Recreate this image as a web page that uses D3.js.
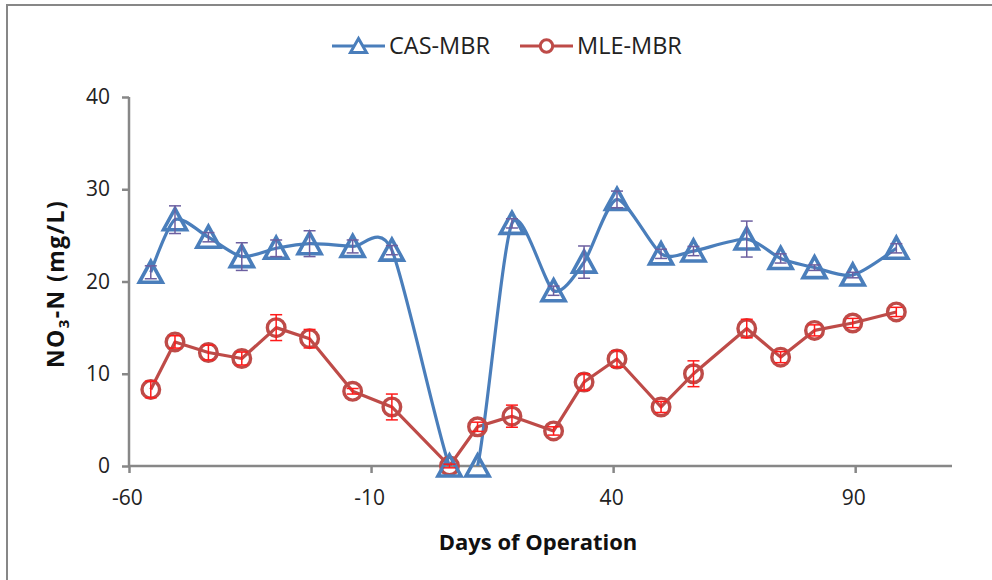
<!DOCTYPE html>
<html>
<head>
<meta charset="utf-8">
<script src="https://cdn.jsdelivr.net/npm/d3@7"></script>
<style>
  html, body { margin: 0; padding: 0; background: #fff; }
  svg { display: block; font-family: "Open Sans", Lato, sans-serif; }
</style>
</head>
<body>
<svg id="chart" width="992" height="580"></svg>
<script>
// Sampling days and NO3-N concentrations (mg/L) for the two reactors
const days   = [-55.5, -50.5, -43.6, -36.7, -29.6, -22.7, -13.8, -5.7, 6.2, 12.0, 19.1, 27.7, 34.0, 40.8, 49.9, 56.6, 67.6, 74.6, 81.6, 89.5, 98.5];
const casMbr = [21.0, 26.7, 24.8, 22.7, 23.6, 24.1, 23.8, 23.4, 0, 0, 26.3, 19.0, 22.1, 28.9, 23.0, 23.3, 24.6, 22.5, 21.5, 20.7, 23.6];
const casErr = [0.7, 1.5, 0.5, 1.5, 0.9, 1.4, 0.7, 0.5, 0, 0, 0.5, 0.5, 1.75, 0.9, 0.5, 0.5, 1.95, 0.5, 0.3, 0.3, 0.5];
const mleMbr = [8.3, 13.45, 12.3, 11.65, 15.0, 13.8, 8.1, 6.4, 0, 4.25, 5.4, 3.8, 9.1, 11.6, 6.4, 10.0, 14.9, 11.8, 14.7, 15.5, 16.7];
const mleErr = [0.9, 0.67, 0.8, 0.7, 1.4, 1.0, 0.3, 1.4, 0.2, 0.5, 1.2, 0.45, 0.9, 0.9, 0.6, 1.4, 1.0, 0.6, 0.6, 0.5, 0.5];
const xTicks = [-60, -10, 40, 90];
const yTicks = [0, 10, 20, 30, 40];
const seriesNames = ["CAS-MBR", "MLE-MBR"];

const svg = d3.select("#chart");
const plot = { left: 129, right: 952, top: 97, bottom: 466 };
const axisGrey = "#878787";
const blue = "#4a7ebb";
const red = "#be4b48";
const font = "'Open Sans', Lato, sans-serif";

const x = d3.scaleLinear().domain([-60, 110]).range([plot.left, plot.right]);
const y = d3.scaleLinear().domain([0, 40]).range([plot.bottom, plot.top]);

// Outer frame
svg.append("rect")
  .attr("x", 7).attr("y", 5).attr("width", 1000).attr("height", 600)
  .attr("fill", "none").attr("stroke", axisGrey).attr("stroke-width", 2);

// Clip path for the lines (markers may overhang the plot area)
svg.append("defs").append("clipPath").attr("id", "plotClip")
  .append("rect")
  .attr("x", plot.left).attr("y", plot.top - 20)
  .attr("width", plot.right - plot.left).attr("height", plot.bottom - plot.top + 20);

// Axes
const xAxis = d3.axisBottom(x).tickValues(xTicks).tickSize(7).tickPadding(17).tickFormat(d => String(d));
const yAxis = d3.axisLeft(y).tickValues(yTicks).tickSize(7).tickPadding(12).tickFormat(d => String(d));

const gx = svg.append("g").attr("transform", `translate(0,${plot.bottom})`).call(xAxis);
const gy = svg.append("g").attr("transform", `translate(${plot.left},0)`).call(yAxis);
[gx, gy].forEach(g => {
  g.select(".domain").attr("stroke", axisGrey).attr("stroke-width", 2.5);
  g.selectAll(".tick line").attr("stroke", axisGrey).attr("stroke-width", 2.5);
  g.selectAll(".tick text").attr("fill", "#222").style("font-size", "21px").style("font-family", font);
});
gx.selectAll(".tick text").attr("dx", -2);
gx.select(".domain").attr("d", `M${plot.left},0H${plot.right}`);
gy.select(".domain").attr("d", `M0,${plot.top}V${plot.bottom}`);

// Axis titles
svg.append("text")
  .attr("x", 538).attr("y", 550)
  .attr("text-anchor", "middle")
  .style("font-size", "22px").style("font-weight", "bold").attr("fill", "#111")
  .text("Days of Operation");

const yTitle = svg.append("text")
  .attr("transform", `translate(64,284) rotate(-90)`)
  .attr("text-anchor", "middle")
  .style("font-size", "23px").style("font-weight", "bold").style("letter-spacing", "1.4px")
  .attr("fill", "#111");
yTitle.append("tspan").text("NO");
yTitle.append("tspan").attr("dy", 5).style("font-size", "15px").text("3");
yTitle.append("tspan").attr("dy", -5).text("-N (mg/L)");

// Series data
const casData = days.map((d, i) => ({ x: d, y: casMbr[i], e: casErr[i] }));
const mleData = days.map((d, i) => ({ x: d, y: mleMbr[i], e: mleErr[i] }));

// Lines
const smoothLine = d3.line().x(d => x(d.x)).y(d => y(d.y)).curve(d3.curveCardinal.tension(0.25));
const straightLine = d3.line().x(d => x(d.x)).y(d => y(d.y));

const lines = svg.append("g").attr("clip-path", "url(#plotClip)");
lines.append("path").datum(mleData).attr("d", straightLine)
  .attr("fill", "none").attr("stroke", red).attr("stroke-width", 3.2).attr("stroke-linejoin", "round");
lines.append("path").datum(casData).attr("d", smoothLine)
  .attr("fill", "none").attr("stroke", blue).attr("stroke-width", 3.2).attr("stroke-linejoin", "round");

// Marker shapes
const triPath = (cx, cy) => `M${cx},${cy - 11}L${cx + 11.5},${cy + 10}L${cx - 11.5},${cy + 10}Z`;

// Markers
svg.append("g").selectAll("circle").data(mleData).join("circle")
  .attr("cx", d => x(d.x)).attr("cy", d => y(d.y)).attr("r", 8.8)
  .attr("fill", "none").attr("stroke", red).attr("stroke-width", 3.4);
svg.append("g").selectAll("path").data(casData).join("path")
  .attr("d", d => triPath(x(d.x), y(d.y)))
  .attr("fill", "none").attr("stroke", blue).attr("stroke-width", 3.6).attr("stroke-linejoin", "miter");

// Error bars
function errorBars(data, colour) {
  const g = svg.append("g").attr("stroke", colour).attr("stroke-width", 1.5).attr("fill", "none");
  const bars = data.filter(d => d.e > 0);
  g.selectAll(".v").data(bars).join("line")
    .attr("x1", d => x(d.x)).attr("x2", d => x(d.x))
    .attr("y1", d => y(d.y + d.e)).attr("y2", d => y(d.y - d.e));
  g.selectAll(".t").data(bars).join("line")
    .attr("x1", d => x(d.x) - 6).attr("x2", d => x(d.x) + 6)
    .attr("y1", d => y(d.y + d.e)).attr("y2", d => y(d.y + d.e));
  g.selectAll(".b").data(bars).join("line")
    .attr("x1", d => x(d.x) - 6).attr("x2", d => x(d.x) + 6)
    .attr("y1", d => y(d.y - d.e)).attr("y2", d => y(d.y - d.e));
}
errorBars(casData, "#6c5fa0");
errorBars(mleData, "#ff1a1a");

// Legend
const legend = svg.append("g").attr("transform", "translate(0,46)");
const legendItems = [
  { name: seriesNames[0], colour: blue, x0: 332, marker: "tri", tx: 389 },
  { name: seriesNames[1], colour: red, x0: 520, marker: "circle", tx: 577 }
];
legendItems.forEach(it => {
  legend.append("line").attr("x1", it.x0).attr("x2", it.x0 + 53).attr("y1", 0).attr("y2", 0)
    .attr("stroke", it.colour).attr("stroke-width", 3.2);
  const cx = it.x0 + 26.5;
  if (it.marker === "tri") {
    legend.append("path")
      .attr("d", `M${cx},-7.5L${cx + 8},6.5L${cx - 8},6.5Z`)
      .attr("fill", "#fff").attr("stroke", it.colour).attr("stroke-width", 3);
  } else {
    legend.append("circle").attr("cx", cx).attr("cy", 0).attr("r", 6.2)
      .attr("fill", "#fff").attr("stroke", it.colour).attr("stroke-width", 3);
  }
  legend.append("text").attr("x", it.tx).attr("y", 8)
    .style("font-size", "23.5px").attr("fill", "#222").text(it.name);
});
</script>
</body>
</html>
